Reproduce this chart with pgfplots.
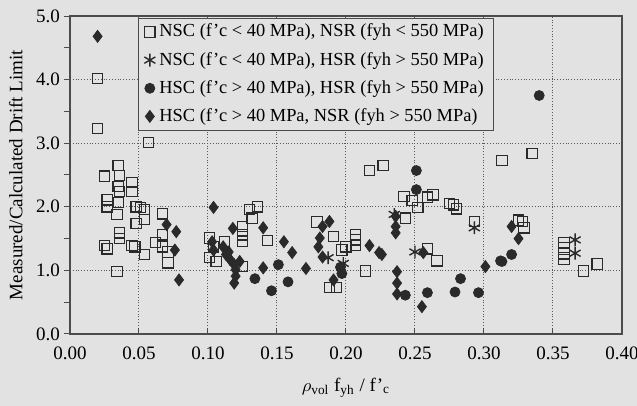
\documentclass[border=0pt]{standalone}
\usepackage{fontspec}
\setmainfont{Liberation Serif}
\usepackage{pgfplots}
\pgfplotsset{compat=1.18}
\definecolor{bg}{HTML}{E2E2E2}
\definecolor{mk}{HTML}{2A2A2A}
\begin{document}
\begin{tikzpicture}[font=\fontsize{9.5}{11}\selectfont]
\fill[bg] (-35pt,-36pt) rectangle (283.5pt,167pt);
\begin{axis}[
  scale only axis, width=276pt, height=159pt,
  xmin=0, xmax=0.40, ymin=0, ymax=5,
  xtick={0,0.05,...,0.40}, ytick={0,1,...,5},
  minor ytick={0.5,1.5,2.5,3.5,4.5},
  xtick pos=left, ytick pos=left,
  tick align=inside,
  major tick length=3pt, minor tick length=2.5pt,
  ytick style={xshift=-3pt},
  /pgf/number format/assume math mode=true,
  xticklabel style={yshift=-3pt, /pgf/number format/.cd, fixed, fixed zerofill, precision=2},
  yticklabel style={xshift=-1.5pt, /pgf/number format/.cd, fixed, fixed zerofill, precision=1},
  grid=major,
  major grid style={densely dotted, black!65, line width=0.5pt},
  axis line style={black!70, line width=0.6pt},
  every tick/.style={black!70, line width=0.5pt},
  axis background/.style={fill=bg},
  ylabel={Measured/Calculated Drift Limit},
  xlabel={$\rho$\textsubscript{vol} f\textsubscript{yh} / f'\textsubscript{c}},
  ylabel style={yshift=0pt},
  xlabel style={yshift=-2pt},
  legend cell align=left,
  legend style={at={(0.123,0.995)}, anchor=north west, draw=black!70, fill=bg,
    font=\fontsize{9.2}{11}\selectfont, row sep=2.1pt, inner xsep=3pt, inner ysep=1pt},
]
% NSC, NSR : open squares
\addplot[only marks, mark=square, mark size=2.6pt, mark options={draw=mk, line width=0.6pt}] coordinates {
(0.020,4.02) (0.020,3.23) (0.025,2.48) (0.027,2.11) (0.027,2.00)
(0.035,2.65) (0.036,2.49) (0.035,2.32) (0.036,2.24) (0.035,2.07)
(0.034,1.88) (0.036,1.59) (0.036,1.50) (0.025,1.39) (0.027,1.34)
(0.034,0.98) (0.045,2.38) (0.045,2.24) (0.048,2.00) (0.051,1.99)
(0.054,1.96) (0.048,1.74) (0.054,1.80) (0.045,1.39) (0.047,1.37)
(0.054,1.25) (0.057,3.01) (0.062,1.44) (0.067,1.89) (0.067,1.56)
(0.067,1.37) (0.071,1.29) (0.071,1.12)
(0.101,1.51) (0.101,1.20) (0.106,1.14) (0.112,1.45) (0.104,1.37)
(0.125,1.69) (0.125,1.56) (0.125,1.46) (0.130,1.96) (0.136,2.00)
(0.132,1.82) (0.143,1.47) (0.125,1.06)
(0.179,1.76) (0.191,1.53) (0.197,1.32) (0.200,1.37) (0.207,1.56)
(0.207,1.48) (0.207,1.40) (0.214,0.99) (0.188,0.73) (0.193,0.73)
(0.217,2.57) (0.227,2.65)
(0.242,2.16) (0.248,2.10) (0.252,1.99) (0.259,2.15) (0.263,2.19)
(0.275,2.05) (0.278,2.03) (0.280,1.97) (0.293,1.77) (0.243,1.82)
(0.259,1.34) (0.266,1.15)
(0.313,2.73) (0.335,2.84) (0.325,1.79) (0.328,1.77) (0.329,1.67)
(0.358,1.44) (0.358,1.36) (0.358,1.26) (0.358,1.17)
(0.372,0.99) (0.382,1.10)
};
\addlegendentry{NSC (f'c < 40 MPa), NSR (fyh < 550 MPa)}
% NSC, HSR : asterisks
\addplot[only marks, mark=asterisk, mark size=3.2pt, mark options={draw=mk, line width=0.7pt}] coordinates {
(0.187,1.20) (0.198,1.11) (0.235,1.88) (0.250,1.29)
(0.293,1.67) (0.366,1.48) (0.366,1.27)
};
\addlegendentry{NSC (f'c < 40 MPa), HSR (fyh > 550 MPa)}
% HSC, HSR : filled circles
\addplot[only marks, mark=*, mark size=2.5pt, mark options={draw=mk, fill=mk}] coordinates {
(0.251,2.57) (0.251,2.27) (0.283,0.87) (0.279,0.66) (0.296,0.65)
(0.259,0.65) (0.243,0.61) (0.312,1.15) (0.340,3.75) (0.320,1.25)
(0.313,1.14) (0.151,1.09) (0.134,0.87) (0.146,0.68) (0.158,0.82)
(0.197,0.95) (0.196,1.05)
};
\addlegendentry{HSC (f'c > 40 MPa), HSR (fyh > 550 MPa)}
% HSC, NSR : filled diamonds
\addplot[only marks, mark=diamond*, mark size=3pt, mark options={draw=mk, fill=mk}] coordinates {
(0.020,4.68) (0.070,1.72) (0.077,1.61) (0.076,1.32) (0.079,0.85)
(0.104,1.99) (0.103,1.45) (0.104,1.32)
(0.111,1.37) (0.113,1.25) (0.116,1.17) (0.119,1.09) (0.120,1.01)
(0.119,0.80) (0.120,0.91) (0.115,1.29) (0.123,1.14) (0.118,1.66)
(0.140,1.67) (0.140,1.04) (0.155,1.45) (0.161,1.28) (0.171,1.03)
(0.188,1.77) (0.183,1.69) (0.181,1.51) (0.180,1.37) (0.183,1.21)
(0.191,0.85) (0.217,1.39) (0.224,1.28)
(0.236,1.85) (0.236,1.69) (0.236,1.59) (0.256,1.28)
(0.237,0.98) (0.237,0.80) (0.237,0.63) (0.255,0.43) (0.226,1.25)
(0.301,1.06) (0.320,1.69) (0.325,1.50)
};
\addlegendentry{HSC (f'c > 40 MPa, NSR (fyh > 550 MPa)}
\end{axis}
\pgfresetboundingbox
\path (-35pt,-36pt) rectangle (283.5pt,167pt);
\end{tikzpicture}
\end{document}
